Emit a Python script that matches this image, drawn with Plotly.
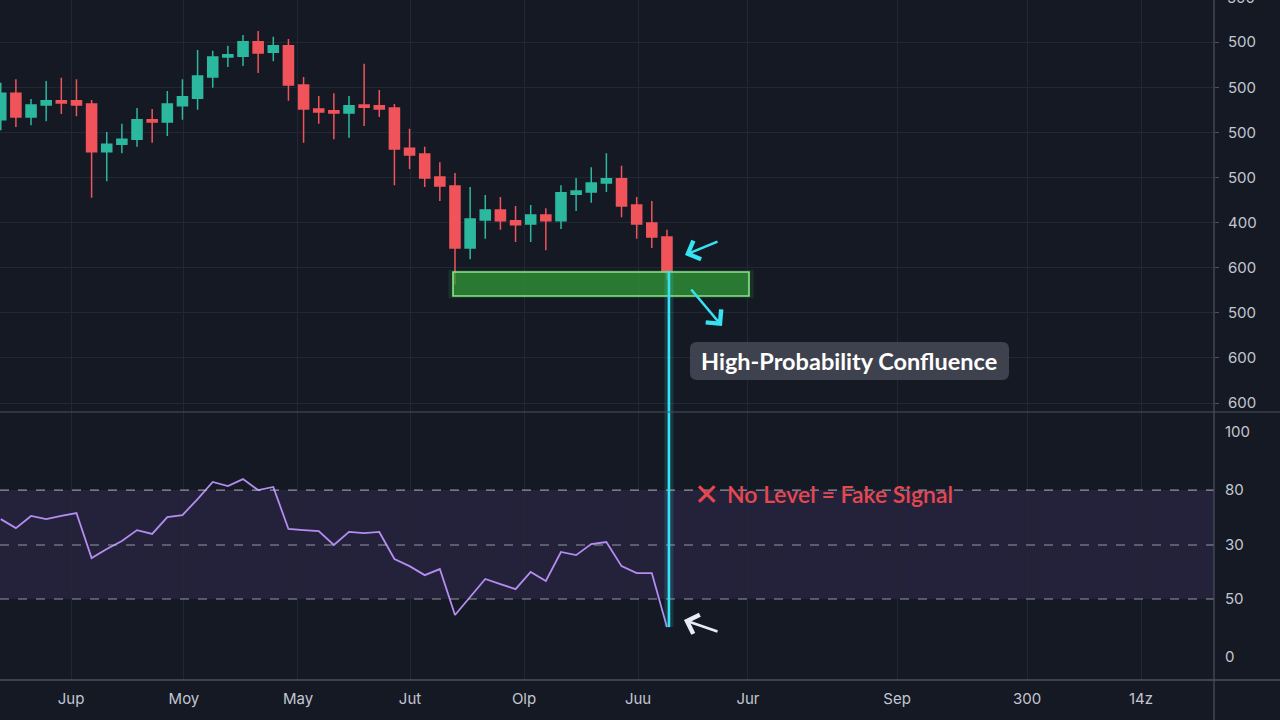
import plotly.graph_objects as go

# ---------------- data ----------------
idx = list(range(45))
opens = [1628, 1687, 1634, 1661, 1670, 1670, 1663, 1557, 1574, 1585,
         1628, 1623, 1659, 1676, 1723, 1767, 1769, 1801, 1778, 1792,
         1705, 1652, 1648, 1643, 1661, 1659, 1654, 1565, 1552, 1501,
         1481, 1344, 1406, 1428, 1404, 1397, 1417, 1404, 1463, 1468,
         1488, 1497, 1439, 1399, 1368]
highs = [1710, 1718, 1674, 1714, 1721, 1718, 1672, 1601, 1619, 1654,
         1652, 1692, 1718, 1783, 1781, 1792, 1816, 1825, 1812, 1807,
         1723, 1681, 1687, 1681, 1752, 1694, 1663, 1608, 1568, 1534,
         1510, 1479, 1461, 1457, 1437, 1439, 1432, 1483, 1499, 1523,
         1554, 1526, 1457, 1448, 1384]
lows = [1605, 1612, 1616, 1625, 1641, 1636, 1455, 1492, 1554, 1568,
        1577, 1592, 1628, 1650, 1699, 1745, 1747, 1732, 1758, 1670,
        1577, 1619, 1585, 1588, 1614, 1634, 1483, 1519, 1479, 1448,
        1262, 1319, 1364, 1384, 1357, 1357, 1339, 1386, 1426, 1444,
        1468, 1412, 1364, 1344, 1273]
closes = [1687, 1634, 1661, 1670, 1665, 1661, 1557, 1574, 1585, 1628,
          1623, 1663, 1679, 1725, 1767, 1772, 1801, 1776, 1792, 1705,
          1652, 1645, 1643, 1659, 1656, 1652, 1563, 1550, 1499, 1481,
          1344, 1408, 1428, 1404, 1395, 1417, 1404, 1466, 1470, 1488,
          1497, 1437, 1397, 1368, 1293]

rsi = [61.3, 57.3, 62.7, 61.3, 62.7, 64.0, 44.0, 48.0, 51.6, 56.4,
       54.7, 62.2, 63.1, 70.2, 77.8, 76.0, 79.1, 74.2, 75.6, 56.9,
       56.4, 56.0, 49.8, 55.6, 55.1, 55.6, 43.6, 40.4, 36.4, 39.1,
       18.7, 26.7, 34.7, 32.4, 30.2, 37.8, 33.8, 46.7, 45.3, 50.2,
       51.1, 40.4, 37.3, 37.3, 13.3]

price_tickvals = [1000, 1100, 1200, 1300, 1400, 1500, 1600, 1700, 1800]
price_ticktext = ["600", "600", "500", "600", "400", "500", "500", "500", "500"]
price_range = [980.1, 1893.6]

rsi_tickvals = [0, 25.8, 49.8, 74.2, 100]
rsi_ticktext = ["0", "50", "30", "80", "100"]
rsi_levels = [25.8, 49.8, 74.2]
rsi_range = [-10.2, 108.9]

x_tickvals = [4.64, 12.10, 19.63, 27.03, 34.56, 42.09, 49.35, 59.20, 67.78, 75.31]
x_ticktext = ["Jup", "Moy", "May", "Jut", "Olp", "Juu", "Jur", "Sep", "300", "14z"]
x_range = [-0.05, 80.13]

zone_x = [29.87, 49.42]
zone_y = [1237.3, 1290.5]

# ---------------- style ----------------
BG = "#151924"
GRID = "#222733"
AXIS = "#4a505e"
TXT = "#c3c7d1"
UP = "#2bb89e"
DOWN = "#f0545a"
CYAN = "#35e3f2"

fig = go.Figure()

fig.add_trace(go.Candlestick(
    x=idx, open=opens, high=highs, low=lows, close=closes,
    increasing=dict(line=dict(color=UP, width=1.5), fillcolor=UP),
    decreasing=dict(line=dict(color=DOWN, width=1.5), fillcolor=DOWN),
    whiskerwidth=0, showlegend=False, xaxis="x", yaxis="y",
))

fig.add_trace(go.Scatter(
    x=idx, y=rsi, mode="lines",
    line=dict(color="#b48cf2", width=1.8),
    showlegend=False, xaxis="x2", yaxis="y2",
))


def px(xp):
    return xp / 1214


def py(yp):
    return (680 - yp) / 680


shapes = []
# RSI band + dashed levels
shapes.append(dict(type="rect", xref="paper", yref="y2", x0=0, x1=1,
                   y0=min(rsi_levels), y1=max(rsi_levels),
                   fillcolor="rgba(120,85,175,0.16)", line=dict(width=0), layer="below"))
for lv in rsi_levels:
    shapes.append(dict(type="line", xref="paper", yref="y2", x0=0, x1=1, y0=lv, y1=lv,
                       line=dict(color="rgba(195,198,210,0.7)", width=1.2, dash="dash")))

# green zone with glow
shapes.append(dict(type="rect", xref="x", yref="y", x0=zone_x[0] - 0.3, x1=zone_x[1] + 0.3,
                   y0=zone_y[0] - 5, y1=zone_y[1] + 5,
                   fillcolor="rgba(80,220,90,0.12)", line=dict(width=0), layer="above"))
shapes.append(dict(type="rect", xref="x", yref="y", x0=zone_x[0], x1=zone_x[1],
                   y0=zone_y[0], y1=zone_y[1],
                   fillcolor="rgba(48,150,55,0.72)",
                   line=dict(color="#86e886", width=1.6), layer="above"))

# cyan vertical line (last close -> last RSI) with glow
lx = idx[-1] + 0.13
for w, c in [(9, "rgba(53,227,242,0.15)"), (2.6, CYAN)]:
    shapes.append(dict(type="line", xref="x", yref="y", x0=lx, x1=lx,
                       y0=closes[-1], y1=price_range[0], line=dict(color=c, width=w)))
    shapes.append(dict(type="line", xref="x2", yref="y2", x0=lx, x1=lx,
                       y0=rsi_range[1], y1=rsi[-1], line=dict(color=c, width=w)))

# separators / axis frame lines
shapes.append(dict(type="line", xref="paper", yref="paper", x0=0, x1=1280 / 1214,
                   y0=py(412), y1=py(412), line=dict(color=AXIS, width=1.2)))
shapes.append(dict(type="line", xref="paper", yref="paper", x0=0, x1=1280 / 1214,
                   y0=0, y1=0, line=dict(color=AXIS, width=1.5)))
shapes.append(dict(type="line", xref="paper", yref="paper", x0=1, x1=1,
                   y0=-0.06, y1=1, line=dict(color=AXIS, width=1.2)))

# rounded label box
bx0, bx1, by0, by1, r = px(690), px(1009), py(380), py(342), 7
rx, ry = r / 1214, r / 680
path = (f"M {bx0 + rx},{by0} L {bx1 - rx},{by0} Q {bx1},{by0} {bx1},{by0 + ry} "
        f"L {bx1},{by1 - ry} Q {bx1},{by1} {bx1 - rx},{by1} L {bx0 + rx},{by1} "
        f"Q {bx0},{by1} {bx0},{by1 - ry} L {bx0},{by0 + ry} Q {bx0},{by0} {bx0 + rx},{by0} Z")
shapes.append(dict(type="path", xref="paper", yref="paper", path=path,
                   fillcolor="rgba(66,70,82,0.93)", line=dict(width=0), layer="above"))

annotations = [
    # top clipped tick label
    dict(text="500", xref="paper", yref="paper", x=1, y=py(-3), xanchor="left", yanchor="middle",
         xshift=11, showarrow=False, font=dict(family="Inter", size=15, color=TXT)),
    # cyan arrow toward last candle
    dict(xref="paper", yref="paper", x=px(685), y=py(255), ax=34, ay=-14, text="",
         showarrow=True, arrowhead=4, arrowsize=1.5, arrowwidth=2.6, arrowcolor=CYAN, standoff=0),
    # cyan arrow down to the right
    dict(xref="paper", yref="paper", x=px(722), y=py(326), ax=-32, ay=-38, text="",
         showarrow=True, arrowhead=4, arrowsize=1.5, arrowwidth=2.6, arrowcolor=CYAN, standoff=0),
    # white arrow to RSI end
    dict(xref="paper", yref="paper", x=px(684), y=py(620), ax=35, ay=12, text="",
         showarrow=True, arrowhead=4, arrowsize=1.5, arrowwidth=2.6, arrowcolor="#e8ecf5", standoff=0),
    dict(text="High-Probability Confluence", xref="paper", yref="paper",
         x=px(849), y=py(361), xanchor="center", yanchor="middle", showarrow=False,
         font=dict(family="Lato", size=23.5, color="#ffffff", weight=700)),
    dict(text="✕", xref="paper", yref="paper",
         x=px(706), y=py(494), xanchor="center", yanchor="middle", showarrow=False,
         font=dict(family="DejaVu Sans", size=30, color="#e5484e", weight=700)),
    dict(text="No Level = Fake Signal", xref="paper", yref="paper",
         x=px(725), y=py(494), xanchor="left", yanchor="middle", showarrow=False,
         font=dict(family="Lato", size=23, color="#e5484e", weight=600)),
]

fig.update_layout(
    width=1280, height=720,
    paper_bgcolor=BG, plot_bgcolor=BG,
    margin=dict(l=0, r=66, t=0, b=40),
    showlegend=False, boxgap=0.3, boxgroupgap=0.05,
    shapes=shapes, annotations=annotations,
    xaxis=dict(domain=[0, 1], anchor="y", range=x_range, tickvals=x_tickvals, showticklabels=False,
               showgrid=True, gridcolor=GRID, gridwidth=1, zeroline=False,
               rangeslider=dict(visible=False), showline=False),
    yaxis=dict(domain=[py(412), 1], anchor="x", side="right", range=price_range,
               tickvals=price_tickvals, ticktext=price_ticktext,
               showgrid=True, gridcolor=GRID, zeroline=False,
               ticks="outside", ticklen=4, tickcolor=AXIS, ticklabelstandoff=6,
               tickfont=dict(family="Inter", size=15, color=TXT)),
    xaxis2=dict(domain=[0, 1], anchor="y2", matches="x", range=x_range,
                tickvals=x_tickvals, ticktext=x_ticktext, showgrid=True, gridcolor=GRID,
                zeroline=False, ticks="", ticklabelstandoff=8,
                tickfont=dict(family="Inter", size=15, color=TXT)),
    yaxis2=dict(domain=[0, py(412)], anchor="x2", side="right", range=rsi_range,
                tickvals=rsi_tickvals, ticktext=rsi_ticktext, showgrid=False, zeroline=False,
                ticks="", ticklabelstandoff=10,
                tickfont=dict(family="Inter", size=15, color=TXT)),
)

fig.write_html("out.html", config={"displayModeBar": False},
               post_script="document.body.style.margin='0';document.body.style.overflow='hidden';")
